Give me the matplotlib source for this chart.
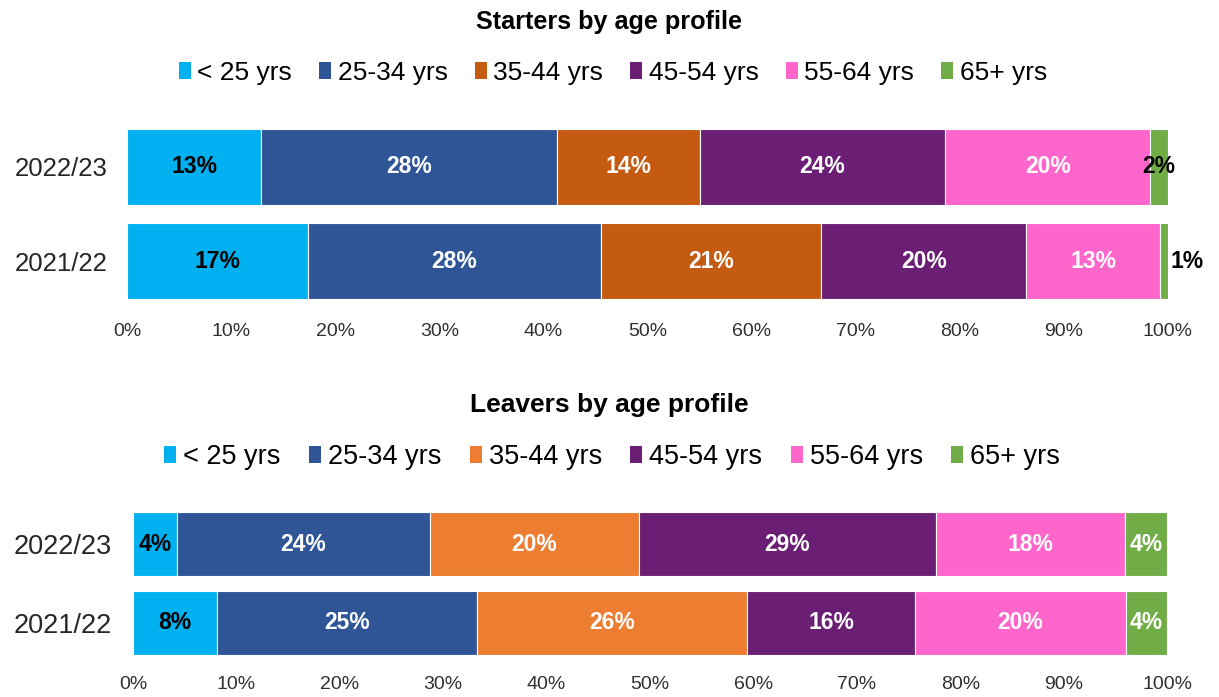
import matplotlib
matplotlib.use("Agg")
import matplotlib.pyplot as plt
from matplotlib.patches import Patch

plt.rcParams['font.family'] = ['Liberation Sans', 'DejaVu Sans']

years = ["2021/22", "2022/23"]
age_groups = ["< 25 yrs", "25-34 yrs", "35-44 yrs", "45-54 yrs", "55-64 yrs", "65+ yrs"]

# values per age group, ordered as years list (2021/22, 2022/23)
starters = {
    "< 25 yrs": [17.4, 12.9],
    "25-34 yrs": [28.1, 28.4],
    "35-44 yrs": [21.2, 13.7],
    "45-54 yrs": [19.7, 23.6],
    "55-64 yrs": [12.8, 19.7],
    "65+ yrs": [0.8, 1.7],
}
leavers = {
    "< 25 yrs": [8.1, 4.3],
    "25-34 yrs": [25.2, 24.4],
    "35-44 yrs": [26.1, 20.2],
    "45-54 yrs": [16.2, 28.8],
    "55-64 yrs": [20.4, 18.2],
    "65+ yrs": [4.0, 4.1],
}

starter_colors = ["#00B0F0", "#2F5597", "#C55A11", "#6A1E74", "#FF66CC", "#70AD47"]
leaver_colors = ["#00B0F0", "#2F5597", "#ED7D31", "#6A1E74", "#FF66CC", "#70AD47"]

x_ticks = [0, 10, 20, 30, 40, 50, 60, 70, 80, 90, 100]

fig = plt.figure(figsize=(12.19, 6.97), dpi=100)

ax1 = fig.add_axes([127/1219, 1-304/697, 1041/1219, 180/697])
ax2 = fig.add_axes([133/1219, 1-658.5/697, 1034/1219, 150/697])


def draw(ax, data, colors, label_colors, special, tick_fs, ylab_fs, ypad, xpad):
    ypos = list(range(len(years)))
    left = [0.0] * len(years)
    for gi, g in enumerate(age_groups):
        vals = data[g]
        ax.barh(ypos, vals, left=left, height=0.8, color=colors[gi],
                edgecolor="white", linewidth=0.8)
        for yi, v in enumerate(vals):
            cx = left[yi] + v / 2
            lc = label_colors[gi]
            off = 0
            if (g, yi) in special:
                lc, off = special[(g, yi)]
            ax.annotate(f"{round(v):d}%", (cx, ypos[yi]), xytext=(off, 0),
                        textcoords="offset points", ha="center", va="center",
                        fontsize=16.5, fontweight="bold", color=lc)
        left = [l + v for l, v in zip(left, vals)]
    ax.set_xlim(0, 100)
    ax.set_ylim(-0.45, 1.45)
    ax.set_yticks(ypos)
    ax.set_yticklabels(years, fontsize=ylab_fs, color="#262626")
    ax.set_xticks(x_ticks)
    ax.set_xticklabels([f"{t}%" for t in x_ticks], fontsize=tick_fs, color="#303030")
    ax.tick_params(axis="both", length=0)
    ax.tick_params(axis="y", pad=ypad)
    ax.tick_params(axis="x", pad=xpad)
    for s in ax.spines.values():
        s.set_visible(False)


lab_cols = ["black", "white", "white", "white", "white", "black"]
draw(ax1, starters, starter_colors, lab_cols,
     {("65+ yrs", 0): ("black", 17)}, 14, 18.5, 14, 13.5)
lab_cols2 = ["black", "white", "white", "white", "white", "white"]
draw(ax2, leavers, leaver_colors, lab_cols2, {}, 14, 19.5, 15, 12.5)

fig.text(0.5, 1-22/697, "Starters by age profile", ha="center", va="center",
         fontsize=18.2, fontweight="bold")
fig.text(0.5, 1-405/697, "Leavers by age profile", ha="center", va="center",
         fontsize=19, fontweight="bold")

h1 = [Patch(facecolor=c) for c in starter_colors]
fig.legend(h1, age_groups, loc="center", bbox_to_anchor=(613/1219, 1-73/697),
           ncol=6, frameon=False, fontsize=19, handlelength=0.45, handleheight=0.6,
           handletextpad=0.25, columnspacing=1.03, borderaxespad=0)
h2 = [Patch(facecolor=c) for c in leaver_colors]
fig.legend(h2, age_groups, loc="center", bbox_to_anchor=(612/1219, 1-457/697),
           ncol=6, frameon=False, fontsize=19.5, handlelength=0.45, handleheight=0.6,
           handletextpad=0.25, columnspacing=1.05, borderaxespad=0)

fig.savefig("out.png", dpi=100, facecolor="white")
